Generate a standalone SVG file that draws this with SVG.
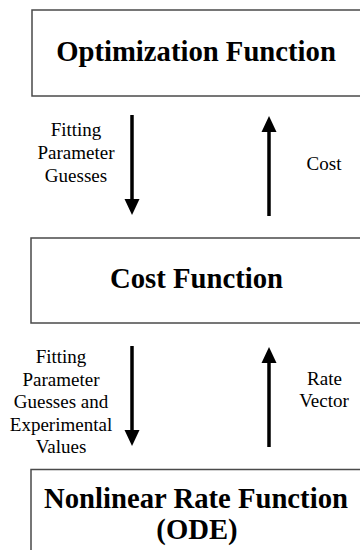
<svg xmlns="http://www.w3.org/2000/svg" width="360" height="550" viewBox="0 0 360 550" font-family="Liberation Serif, Times New Roman, serif">
<style>
.box{fill:#fff;stroke:#4a4a4a;stroke-width:1.5}
.title{font-weight:bold;font-size:28.7px;fill:#000;text-anchor:middle}
.lbl{font-size:19px;fill:#000;text-anchor:middle}
.arr{stroke:#000;stroke-width:3.5;fill:none;marker-end:url(#ah)}
</style>
<defs>
<marker id="ah" markerUnits="userSpaceOnUse" markerWidth="17" markerHeight="16" refX="1" refY="7.5" orient="auto" overflow="visible">
<path d="M0,0 L16,7.5 L0,15 z" fill="#000"/>
</marker>
</defs>
<rect width="360" height="550" fill="#fff"/>
<g id="opt">
<rect class="box" x="32" y="10" width="340" height="86"/>
<text class="title" x="196" y="61" font-family="Liberation Serif">Optimization Function</text>
</g>
<g id="cost">
<rect class="box" x="31" y="238" width="340" height="85"/>
<text class="title" x="196.5" y="288" font-family="Liberation Serif">Cost Function</text>
</g>
<g id="rate">
<rect class="box" x="31" y="469.5" width="340" height="100"/>
<text class="title" x="196" y="508" font-family="Liberation Serif">Nonlinear Rate Function</text>
<text class="title" x="197" y="539" font-family="Liberation Serif">(ODE)</text>
</g>
<g id="connectors" font-family="Liberation Serif">
<line class="arr" x1="132" y1="115" x2="132" y2="200"/>
<line class="arr" x1="269" y1="216" x2="269" y2="131"/>
<line class="arr" x1="132" y1="346" x2="132" y2="431"/>
<line class="arr" x1="269" y1="447" x2="269" y2="362"/>
<text class="lbl" x="76" y="136">Fitting</text>
<text class="lbl" x="76" y="159">Parameter</text>
<text class="lbl" x="76" y="182">Guesses</text>
<text class="lbl" x="324" y="170">Cost</text>
<text class="lbl" x="61" y="363">Fitting</text>
<text class="lbl" x="61" y="385.5">Parameter</text>
<text class="lbl" x="61" y="408">Guesses and</text>
<text class="lbl" x="61" y="430.5">Experimental</text>
<text class="lbl" x="61" y="453">Values</text>
<text class="lbl" x="324.5" y="385">Rate</text>
<text class="lbl" x="324" y="407">Vector</text>
</g>
</svg>
